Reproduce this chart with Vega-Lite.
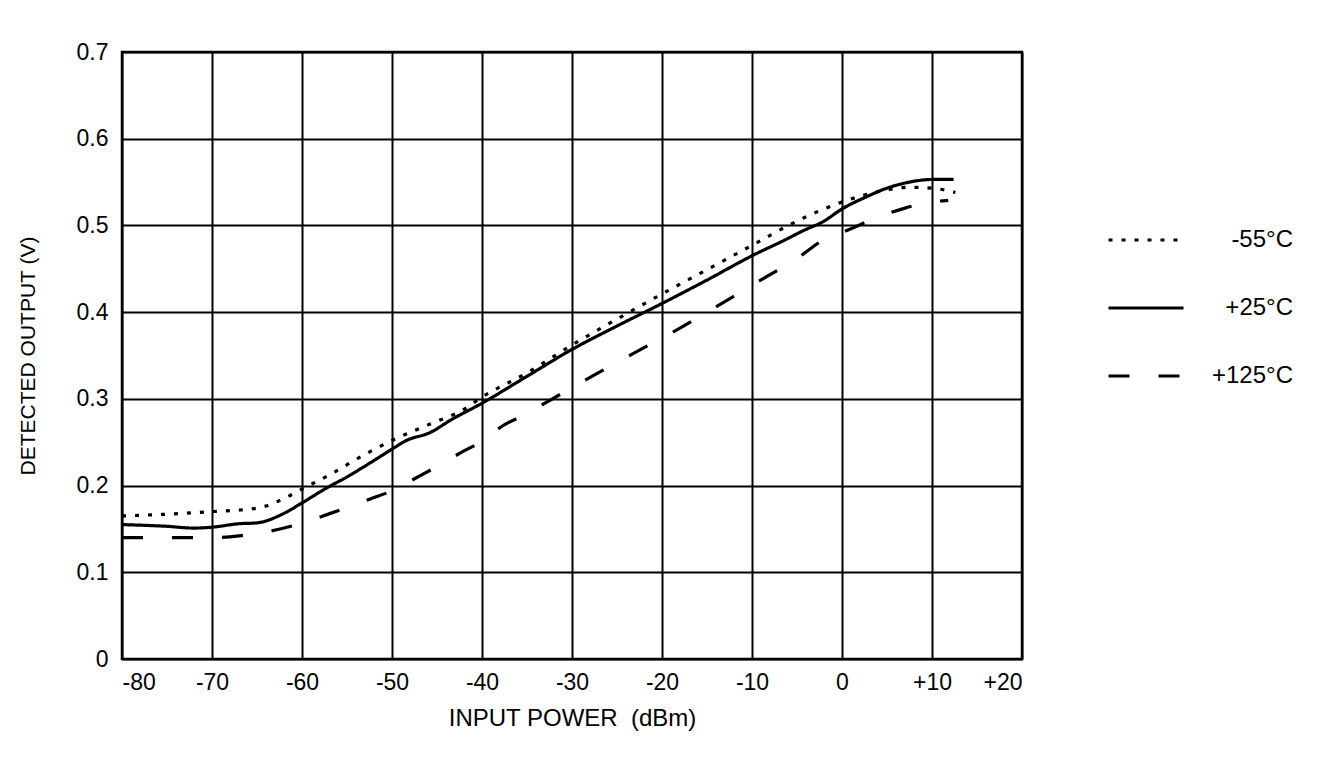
{
  "$schema": "https://vega.github.io/schema/vega-lite/v6.json",
  "width": 900,
  "height": 607,
  "autosize": "none",
  "padding": {"left": 122, "top": 52, "right": 300, "bottom": 123},
  "background": "white",
  "config": {
    "font": "Liberation Sans",
    "view": {"stroke": "black", "strokeWidth": 2.5},
    "axis": {
      "grid": true, "gridColor": "black", "gridWidth": 2, "gridOpacity": 1,
      "domain": false, "ticks": false,
      "labelColor": "black", "labelFontSize": 23, "labelFont": "Liberation Sans",
      "titleColor": "black", "titleFontWeight": "normal", "titleFont": "Liberation Sans"
    }
  },
  "data": {
    "values": [
      {"temp": "-55°C", "p": -80, "v": 0.165}, {"temp": "-55°C", "p": -75, "v": 0.167},
      {"temp": "-55°C", "p": -70, "v": 0.170}, {"temp": "-55°C", "p": -65, "v": 0.174},
      {"temp": "-55°C", "p": -62, "v": 0.185}, {"temp": "-55°C", "p": -60, "v": 0.196},
      {"temp": "-55°C", "p": -57, "v": 0.212}, {"temp": "-55°C", "p": -53, "v": 0.236},
      {"temp": "-55°C", "p": -50, "v": 0.252}, {"temp": "-55°C", "p": -46, "v": 0.270},
      {"temp": "-55°C", "p": -42, "v": 0.288}, {"temp": "-55°C", "p": -40, "v": 0.302},
      {"temp": "-55°C", "p": -35, "v": 0.330}, {"temp": "-55°C", "p": -30, "v": 0.362},
      {"temp": "-55°C", "p": -25, "v": 0.392}, {"temp": "-55°C", "p": -20, "v": 0.421},
      {"temp": "-55°C", "p": -15, "v": 0.449}, {"temp": "-55°C", "p": -10, "v": 0.477},
      {"temp": "-55°C", "p": -5, "v": 0.505}, {"temp": "-55°C", "p": 0, "v": 0.527},
      {"temp": "-55°C", "p": 2.5, "v": 0.535}, {"temp": "-55°C", "p": 5, "v": 0.541},
      {"temp": "-55°C", "p": 7.5, "v": 0.544}, {"temp": "-55°C", "p": 10, "v": 0.543},
      {"temp": "-55°C", "p": 12.6, "v": 0.538},

      {"temp": "+25°C", "p": -80, "v": 0.155}, {"temp": "+25°C", "p": -75, "v": 0.153},
      {"temp": "+25°C", "p": -72, "v": 0.151}, {"temp": "+25°C", "p": -70, "v": 0.152},
      {"temp": "+25°C", "p": -67, "v": 0.156}, {"temp": "+25°C", "p": -65, "v": 0.157},
      {"temp": "+25°C", "p": -62, "v": 0.168}, {"temp": "+25°C", "p": -60, "v": 0.180},
      {"temp": "+25°C", "p": -57.3, "v": 0.197}, {"temp": "+25°C", "p": -55, "v": 0.210},
      {"temp": "+25°C", "p": -52.3, "v": 0.227},
      {"temp": "+25°C", "p": -50, "v": 0.242}, {"temp": "+25°C", "p": -48.4, "v": 0.252},
      {"temp": "+25°C", "p": -45.8, "v": 0.261}, {"temp": "+25°C", "p": -43.4, "v": 0.276},
      {"temp": "+25°C", "p": -40, "v": 0.295}, {"temp": "+25°C", "p": -35, "v": 0.326},
      {"temp": "+25°C", "p": -30, "v": 0.357}, {"temp": "+25°C", "p": -25, "v": 0.384},
      {"temp": "+25°C", "p": -20, "v": 0.410}, {"temp": "+25°C", "p": -15, "v": 0.437},
      {"temp": "+25°C", "p": -10, "v": 0.465}, {"temp": "+25°C", "p": -6, "v": 0.485},
      {"temp": "+25°C", "p": -4.5, "v": 0.493}, {"temp": "+25°C", "p": -2, "v": 0.505},
      {"temp": "+25°C", "p": 0, "v": 0.519}, {"temp": "+25°C", "p": 2.5, "v": 0.532},
      {"temp": "+25°C", "p": 5, "v": 0.543}, {"temp": "+25°C", "p": 7.5, "v": 0.550},
      {"temp": "+25°C", "p": 10, "v": 0.553}, {"temp": "+25°C", "p": 12.4, "v": 0.553},

      {"temp": "+125°C", "p": -80, "v": 0.140}, {"temp": "+125°C", "p": -75, "v": 0.140},
      {"temp": "+125°C", "p": -70, "v": 0.140}, {"temp": "+125°C", "p": -67, "v": 0.142},
      {"temp": "+125°C", "p": -62, "v": 0.151}, {"temp": "+125°C", "p": -56, "v": 0.171},
      {"temp": "+125°C", "p": -52.3, "v": 0.185}, {"temp": "+125°C", "p": -50, "v": 0.194},
      {"temp": "+125°C", "p": -47.3, "v": 0.209}, {"temp": "+125°C", "p": -45, "v": 0.222},
      {"temp": "+125°C", "p": -42, "v": 0.240}, {"temp": "+125°C", "p": -40, "v": 0.251},
      {"temp": "+125°C", "p": -37.7, "v": 0.269}, {"temp": "+125°C", "p": -35.6, "v": 0.280},
      {"temp": "+125°C", "p": -32.5, "v": 0.298}, {"temp": "+125°C", "p": -30, "v": 0.313},
      {"temp": "+125°C", "p": -27.6, "v": 0.327}, {"temp": "+125°C", "p": -25.5, "v": 0.339},
      {"temp": "+125°C", "p": -22, "v": 0.359}, {"temp": "+125°C", "p": -20, "v": 0.370},
      {"temp": "+125°C", "p": -15, "v": 0.400}, {"temp": "+125°C", "p": -10, "v": 0.431},
      {"temp": "+125°C", "p": -5, "v": 0.462}, {"temp": "+125°C", "p": -1.4, "v": 0.487},
      {"temp": "+125°C", "p": 0, "v": 0.492}, {"temp": "+125°C", "p": 4.1, "v": 0.510},
      {"temp": "+125°C", "p": 7, "v": 0.520}, {"temp": "+125°C", "p": 10, "v": 0.527},
      {"temp": "+125°C", "p": 11.8, "v": 0.529}
    ]
  },
  "mark": {"type": "line", "color": "black", "strokeWidth": 3.2, "interpolate": "monotone", "strokeCap": "butt"},
  "encoding": {
    "x": {
      "field": "p", "type": "quantitative",
      "scale": {"domain": [-80, 20], "nice": false, "zero": false},
      "axis": {
        "values": [-80, -70, -60, -50, -40, -30, -20, -10, 0, 10, 20],
        "labelExpr": "datum.value > 0 ? '+' + datum.value : '' + datum.value",
        "labelPadding": 12,
        "title": "INPUT POWER\u00a0 (dBm)", "titleFontSize": 24, "titlePadding": 12
      }
    },
    "y": {
      "field": "v", "type": "quantitative",
      "scale": {"domain": [0, 0.7], "nice": false},
      "axis": {
        "values": [0, 0.1, 0.2, 0.3, 0.4, 0.5, 0.6, 0.7],
        "labelExpr": "datum.value == 0 ? '0' : format(datum.value, '.1f')",
        "labelPadding": 14,
        "title": "DETECTED OUTPUT (V)", "titleFontSize": 21, "titlePadding": 38
      }
    },
    "strokeDash": {
      "field": "temp", "type": "nominal",
      "scale": {"domain": ["-55°C", "+25°C", "+125°C"], "range": [[4, 9], [1, 0], [21, 29]]},
      "legend": {
        "title": null, "orient": "none", "legendX": 985, "legendY": 149,
        "symbolType": "stroke", "symbolSize": 5625, "symbolStrokeWidth": 3,
        "symbolStrokeColor": "black",
        "labelAlign": "right", "labelOffset": 108, "labelFontSize": 24, "labelColor": "black",
        "labelFont": "Liberation Sans", "rowPadding": 17, "padding": 0, "labelLimit": 300
      }
    }
  }
}
